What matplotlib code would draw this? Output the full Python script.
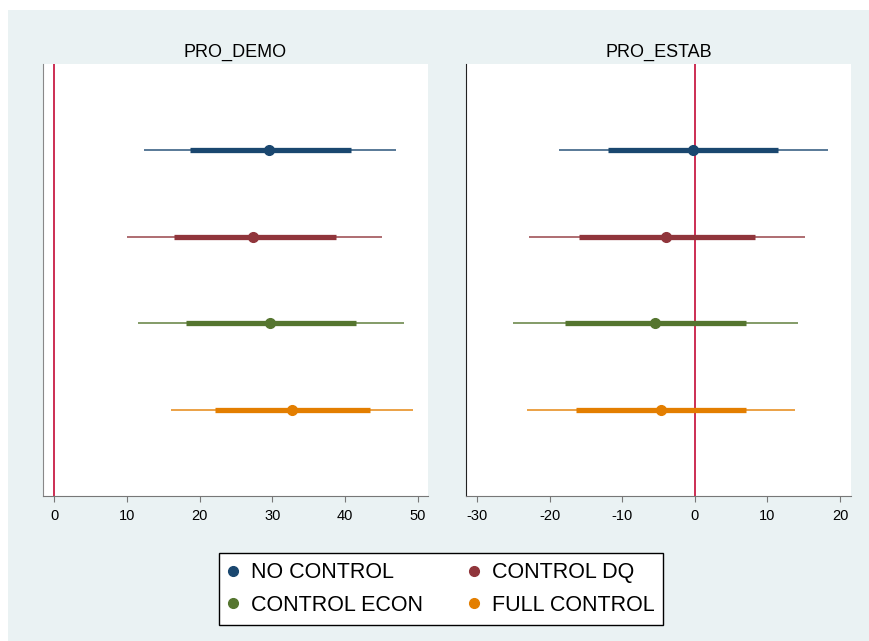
import matplotlib
matplotlib.use("Agg")
import matplotlib.pyplot as plt
from matplotlib.patches import Rectangle
from matplotlib.lines import Line2D

plt.rcParams["font.family"] = ["Liberation Sans", "DejaVu Sans"]
plt.rcParams["axes.unicode_minus"] = False

# ── data ──────────────────────────────────────────────────────────────────────
series = ["NO CONTROL", "CONTROL DQ", "CONTROL ECON", "FULL CONTROL"]
colors = ["#1A476F", "#90353B", "#55752F", "#E37E00"]

# PRO_DEMO: point estimate, 90% CI (thick), 95% CI (thin)
demo_est = [29.6, 27.4, 29.7, 32.7]
demo_lo90 = [18.7, 16.4, 18.1, 22.1]
demo_hi90 = [40.8, 38.7, 41.5, 43.4]
demo_lo95 = [12.4, 10.0, 11.5, 16.1]
demo_hi95 = [47.0, 45.1, 48.1, 49.4]

# PRO_ESTAB
estab_est = [-0.3, -3.9, -5.5, -4.7]
estab_lo90 = [-11.9, -16.0, -17.9, -16.4]
estab_hi90 = [11.5, 8.3, 7.1, 7.1]
estab_lo95 = [-18.7, -22.8, -25.0, -23.1]
estab_hi95 = [18.3, 15.2, 14.2, 13.8]

demo_ticks = [0, 10, 20, 30, 40, 50]
estab_ticks = [-30, -20, -10, 0, 10, 20]

# ── figure ────────────────────────────────────────────────────────────────────
fig = plt.figure(figsize=(8.7, 6.41), dpi=100)
fig.patches.append(Rectangle((8 / 870, 0), 1, 1 - 10 / 641, transform=fig.transFigure,
                             facecolor="#EAF2F3", edgecolor="none", zorder=-10))

ax1 = fig.add_axes([43 / 870, 145 / 641, 385 / 870, 432 / 641])
ax2 = fig.add_axes([466 / 870, 145 / 641, 385 / 870, 432 / 641])


def coefplot(ax, est, lo90, hi90, lo95, hi95, xlim, ticks, title, spine_col):
    ax.axvline(0, color="#C81E45", lw=1.3, zorder=1)
    for i in range(len(series)):
        y = i + 1
        ax.plot([lo95[i], hi95[i]], [y, y], color=colors[i], lw=1.2, alpha=0.85,
                solid_capstyle="butt", zorder=2)
        ax.plot([lo90[i], hi90[i]], [y, y], color=colors[i], lw=3.8,
                solid_capstyle="butt", zorder=3)
        ax.plot(est[i], y, "o", color=colors[i], ms=7, zorder=4)
    ax.set_xlim(*xlim)
    ax.set_ylim(5, 0)
    ax.set_yticks([])
    ax.set_xticks(ticks)
    ax.tick_params(axis="x", length=4, width=0.8, color="#777777", pad=5,
                   labelsize=10.5)
    for s in ["top", "right"]:
        ax.spines[s].set_visible(False)
    ax.spines["left"].set_color(spine_col)
    ax.spines["bottom"].set_color("#777777")
    ax.set_title(title, fontsize=13, pad=5)


coefplot(ax1, demo_est, demo_lo90, demo_hi90, demo_lo95, demo_hi95,
         (-1.55, 51.4), demo_ticks, "PRO_DEMO", "#888888")
coefplot(ax2, estab_est, estab_lo90, estab_hi90, estab_lo95, estab_hi95,
         (-31.5, 21.5), estab_ticks, "PRO_ESTAB", "#222222")

# ── legend (row-wise order like Stata) ────────────────────────────────────────
order = [0, 2, 1, 3]
handles = [Line2D([], [], ls="none", marker="o", color=colors[k], ms=7) for k in order]
labels = [series[k] for k in order]
leg = fig.legend(handles, labels, ncol=2, loc="center",
                 bbox_to_anchor=(441 / 870, 1 - 589 / 641),
                 fontsize=15.5, frameon=True, fancybox=False, edgecolor="black",
                 framealpha=1, handlelength=0.5, handletextpad=0.6,
                 columnspacing=2.1, labelspacing=0.55, borderpad=0.4)
leg.get_frame().set_linewidth(1.0)

plt.savefig("out.png", dpi=100)
